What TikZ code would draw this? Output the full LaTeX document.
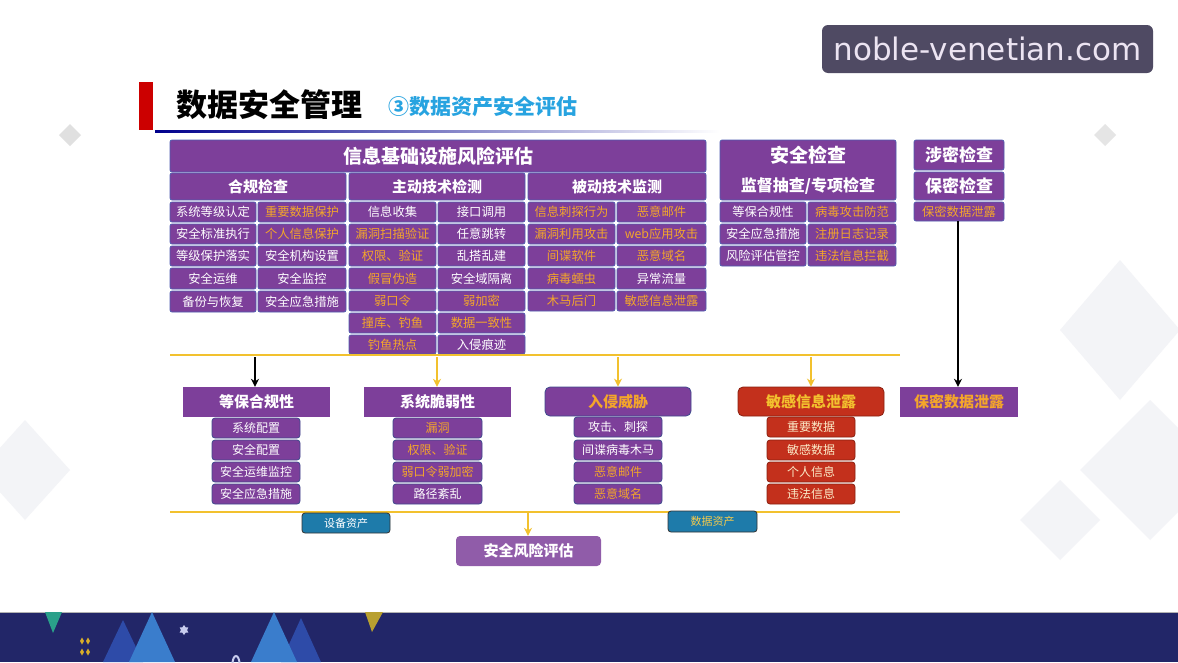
\documentclass[tikz,border=0pt]{standalone}
\usepackage{fontspec}
\setmainfont{Noto Sans CJK SC}
\newfontfamily\wmfont{DejaVu Sans}
\usetikzlibrary{arrows.meta,shapes.geometric}
\definecolor{purp}{HTML}{7D3F9A}
\definecolor{cellbd}{HTML}{4F5DB0}
\definecolor{orng}{HTML}{F4A62A}
\definecolor{ylw}{HTML}{F2C12E}
\definecolor{redb}{HTML}{C3301C}
\definecolor{redbd}{HTML}{8A2010}
\definecolor{assetblue}{HTML}{1E7BAA}
\definecolor{navyband}{HTML}{222668}
\definecolor{titlecyan}{HTML}{27A3E0}
\definecolor{wmbg}{HTML}{4F4A63}
\definecolor{wmtext}{HTML}{ECE4F2}
\definecolor{cream}{HTML}{FBEBC8}
\definecolor{decog}{HTML}{F3F4F7}
\definecolor{tealg}{HTML}{2AA08A}
\definecolor{bluedk}{HTML}{2E4BA8}
\definecolor{bluelt}{HTML}{3A7DCC}
\definecolor{goldtri}{HTML}{B8A030}
\definecolor{lav}{HTML}{C8CCEE}
\newcommand\cbox[7]{\node[#1,minimum width={(#4-#2)*1pt},minimum height={(#5-#3)*1pt}] (#6) at ({(#2+#4)/2},{(#3+#5)/2}) {#7};}
\begin{document}
\begin{tikzpicture}[x=1pt,y=-1pt,
  cell/.style={draw=cellbd,line width=0.7pt,fill=purp,rounded corners=2pt,inner sep=0pt,text=white,font=\fontsize{12.3}{12.3}\selectfont},
  ocell/.style={cell,text=orng},
  hdr/.style={cell,font=\bfseries\fontsize{15}{15}\selectfont},
  bighdr/.style={cell,font=\bfseries\fontsize{19}{19}\selectfont},
  midhdr/.style={fill=purp,inner sep=0pt,text=white,font=\bfseries\fontsize{15}{15}\selectfont},
  sub/.style={draw=cellbd!80!black,line width=0.8pt,fill=purp,rounded corners=3pt,inner sep=0pt,text=white,font=\fontsize{12}{12}\selectfont},
  osub/.style={sub,text=orng},
  rsub/.style={sub,fill=redb,draw=redbd,text=cream},
  asset/.style={draw=black!80,line width=0.8pt,fill=assetblue,rounded corners=3pt,inner sep=0pt,text=white,font=\fontsize{11}{11}\selectfont},
  yarrow/.style={draw=ylw,line width=1.8pt,-{Stealth[length=8pt,width=8pt]}},
  barrow/.style={draw=black,line width=1.6pt,-{Stealth[length=8pt,width=8pt]}},
  yline/.style={draw=ylw,line width=1.3pt}
]
\useasboundingbox (0,0) rectangle (1178,662);
\fill[white] (0,0) rectangle (1178,662);
% faint background decorations
\fill[decog] (25,420) -- (70,470) -- (25,520) -- (-20,470) -- cycle;
\fill[decog] (1120,260) -- (1180,330) -- (1120,400) -- (1060,330) -- cycle;
\fill[decog] (1150,400) -- (1220,470) -- (1150,540) -- (1080,470) -- cycle;
\fill[decog] (1060,480) -- (1100,520) -- (1060,560) -- (1020,520) -- cycle;
\fill[black!12] (70,124) -- (81,135) -- (70,146) -- (59,135) -- cycle;
\fill[black!10] (1105,124) -- (1116,135) -- (1105,146) -- (1094,135) -- cycle;
% watermark
\node[fill=wmbg,rounded corners=6pt,minimum width=331pt,minimum height=48pt,inner sep=0pt,text=wmtext,font=\wmfont\fontsize{31}{31}\selectfont] (wm) at (987.5,49) {noble-venetian.com};
% title
\fill[red!80!black] (139,82) rectangle (153,130);
\node[anchor=west,inner sep=0pt,font=\bfseries\fontsize{31}{31}\selectfont] (title) at (176,105) {数据安全管理};
\node[anchor=west,inner sep=0pt,text=titlecyan,font=\bfseries\fontsize{21}{21}\selectfont] (subtitle) at (388,107) {③数据资产安全评估};
\fill[left color=blue!55!black,right color=white] (155,130.3) rectangle (720,132);
% top headers
\cbox{bighdr}{170}{140}{706}{172}{infra}{信息基础设施风险评估}
\cbox{hdr}{170}{173}{346}{200}{hg}{合规检查}
\cbox{hdr}{349}{173}{525}{200}{hz}{主动技术检测}
\cbox{hdr}{528}{173}{706}{200}{hb}{被动技术监测}
\node[cell,minimum width=176pt,minimum height=60pt] (hs) at (808,170) {};
\node[inner sep=0pt,text=white,font=\bfseries\fontsize{19}{19}\selectfont] (hs1) at (808,155) {安全检查};
\node[inner sep=0pt,text=white,font=\bfseries\fontsize{16}{16}\selectfont] (hs2) at (808,186) {监督抽查/专项检查};
\cbox{bighdr,font=\bfseries\fontsize{17}{17}\selectfont}{914}{140}{1004}{170}{sm}{涉密检查}
\cbox{bighdr,font=\bfseries\fontsize{17}{17}\selectfont}{914}{172}{1004}{200}{bm}{保密检查}
\cbox{ocell}{914}{202}{1004}{221}{bmx}{保密数据泄露}
% compliance cells
\cbox{cell}{170}{202}{256}{222}{g11}{系统等级认定}
\cbox{ocell}{258}{202}{346}{222}{g12}{重要数据保护}
\cbox{cell}{170}{224}{256}{244}{g21}{安全标准执行}
\cbox{ocell}{258}{224}{346}{244}{g22}{个人信息保护}
\cbox{cell}{170}{246}{256}{266}{g31}{等级保护落实}
\cbox{cell}{258}{246}{346}{266}{g32}{安全机构设置}
\cbox{cell}{170}{268}{256}{289}{g41}{安全运维}
\cbox{cell}{258}{268}{346}{289}{g42}{安全监控}
\cbox{cell}{170}{291}{256}{312}{g51}{备份与恢复}
\cbox{cell}{258}{291}{346}{312}{g52}{安全应急措施}
% active cells
\cbox{cell}{349}{202}{436}{222}{z11}{信息收集}
\cbox{cell}{438}{202}{525}{222}{z12}{接口调用}
\cbox{ocell}{349}{224}{436}{244}{z21}{漏洞扫描验证}
\cbox{cell}{438}{224}{525}{244}{z22}{任意跳转}
\cbox{ocell}{349}{246}{436}{266}{z31}{权限、验证}
\cbox{cell}{438}{246}{525}{266}{z32}{乱搭乱建}
\cbox{ocell}{349}{268}{436}{289}{z41}{假冒伪造}
\cbox{cell}{438}{268}{525}{289}{z42}{安全域隔离}
\cbox{ocell}{349}{291}{436}{311}{z51}{弱口令}
\cbox{ocell}{438}{291}{525}{311}{z52}{弱加密}
\cbox{ocell}{349}{313}{436}{333}{z61}{撞库、钓鱼}
\cbox{ocell}{438}{313}{525}{333}{z62}{数据一致性}
\cbox{ocell}{349}{335}{436}{354}{z71}{钓鱼热点}
\cbox{cell}{438}{335}{525}{354}{z72}{入侵痕迹}
% passive cells
\cbox{ocell}{528}{202}{615}{222}{b11}{信息刺探行为}
\cbox{ocell}{617}{202}{706}{222}{b12}{恶意邮件}
\cbox{ocell}{528}{224}{615}{244}{b21}{漏洞利用攻击}
\cbox{ocell}{617}{224}{706}{244}{b22}{web应用攻击}
\cbox{ocell}{528}{246}{615}{266}{b31}{间谍软件}
\cbox{ocell}{617}{246}{706}{266}{b32}{恶意域名}
\cbox{ocell}{528}{268}{615}{289}{b41}{病毒蠕虫}
\cbox{cell}{617}{268}{706}{289}{b42}{异常流量}
\cbox{ocell}{528}{291}{615}{311}{b51}{木马后门}
\cbox{ocell}{617}{291}{706}{311}{b52}{敏感信息泄露}
% safety check cells
\cbox{cell}{720}{202}{806}{222}{s11}{等保合规性}
\cbox{ocell}{808}{202}{896}{222}{s12}{病毒攻击防范}
\cbox{cell}{720}{224}{806}{244}{s21}{安全应急措施}
\cbox{ocell}{808}{224}{896}{244}{s22}{注册日志记录}
\cbox{cell}{720}{246}{806}{266}{s31}{风险评估管控}
\cbox{ocell}{808}{246}{896}{266}{s32}{违法信息拦截}
% upper yellow line
\coordinate (L1) at (170,355);
\coordinate (L2) at (900,355);
\draw[yline] (L1) -- (L2);
% middle headers
\cbox{midhdr}{183}{387}{330}{417}{m1}{等保合规性}
\cbox{midhdr}{364}{387}{511}{417}{m2}{系统脆弱性}
\cbox{sub,text=orng,font=\bfseries\fontsize{15}{15}\selectfont,rounded corners=5pt}{545}{387}{691}{416}{m3}{入侵威胁}
\cbox{rsub,text=ylw,font=\bfseries\fontsize{15}{15}\selectfont,rounded corners=5pt}{738}{387}{884}{416}{m4}{敏感信息泄露}
\cbox{midhdr,text=orng}{900}{387}{1018}{417}{m5}{保密数据泄露}
% middle subs
\cbox{sub}{212}{418}{300}{438}{m11}{系统配置}
\cbox{sub}{212}{440}{300}{460}{m12}{安全配置}
\cbox{sub}{212}{462}{300}{482}{m13}{安全运维监控}
\cbox{sub}{212}{484}{300}{504}{m14}{安全应急措施}
\cbox{osub}{393}{418}{482}{438}{m21}{漏洞}
\cbox{osub}{393}{440}{482}{460}{m22}{权限、验证}
\cbox{osub}{393}{462}{482}{482}{m23}{弱口令弱加密}
\cbox{sub}{393}{484}{482}{504}{m24}{路径紊乱}
\cbox{sub}{574}{417}{662}{437}{m31}{攻击、刺探}
\cbox{sub}{574}{440}{662}{460}{m32}{间谍病毒木马}
\cbox{osub}{574}{462}{662}{482}{m33}{恶意邮件}
\cbox{osub}{574}{484}{662}{504}{m34}{恶意域名}
\cbox{rsub}{767}{417}{855}{437}{m41}{重要数据}
\cbox{rsub}{767}{440}{855}{460}{m42}{敏感数据}
\cbox{rsub}{767}{462}{855}{482}{m43}{个人信息}
\cbox{rsub}{767}{484}{855}{504}{m44}{违法信息}
% arrows from the upper line
\coordinate (a1) at (255,357);
\coordinate (a2) at (437,357);
\coordinate (a3) at (618,357);
\coordinate (a4) at (811,357);
\draw[barrow] (a1) -- (a1 |- m1.north);
\draw[yarrow] (a2) -- (a2 |- m2.north);
\draw[yarrow] (a3) -- (a3 |- m3.north);
\draw[yarrow] (a4) -- (a4 |- m4.north);
\draw[barrow] (bmx.south -| 958,0) -- (m5.north -| 958,0);
% lower line and assets
\coordinate (B1) at (170,512);
\coordinate (B2) at (900,512);
\draw[yline] (B1) -- (B2);
\cbox{asset}{302}{513}{390}{533}{eq}{设备资产}
\cbox{asset,text=ylw!85!white}{668}{511}{757}{532}{da}{数据资产}
\cbox{midhdr,fill=purp!85!white,rounded corners=4pt}{456}{536}{601}{566}{risk}{安全风险评估}
\coordinate (b0) at (528,512);
\draw[yarrow] (b0) -- (b0 |- risk.north);
% bottom band
\fill[navyband] (0,612) rectangle (1178,662);
\draw[black!30,line width=0.8pt] (0,612) -- (1178,612);
\fill[tealg] (45,612) -- (62,612) -- (53,633) -- cycle;
\fill[bluedk] (123,620) -- (143,662) -- (103,662) -- cycle;
\fill[bluelt] (152,612) -- (175,662) -- (129,662) -- cycle;
\fill[bluedk] (301,618) -- (321,662) -- (281,662) -- cycle;
\fill[bluelt] (274,612) -- (297,662) -- (251,662) -- cycle;
\fill[goldtri] (365,612) -- (383,612) -- (372,632) -- cycle;
\node[star,star points=6,star point ratio=1.6,fill=lav,minimum size=10pt,inner sep=0pt] (st) at (184,630) {};
\foreach \px/\py in {82/641,88/641,82/652,88/652}
  \fill[ylw!90!black] (\px,\py-3.5) -- (\px+2,\py) -- (\px,\py+3.5) -- (\px-2,\py) -- cycle;
\draw[lav,line width=2pt] (236,664) ellipse (3.5pt and 8pt);
\end{tikzpicture}
\end{document}
